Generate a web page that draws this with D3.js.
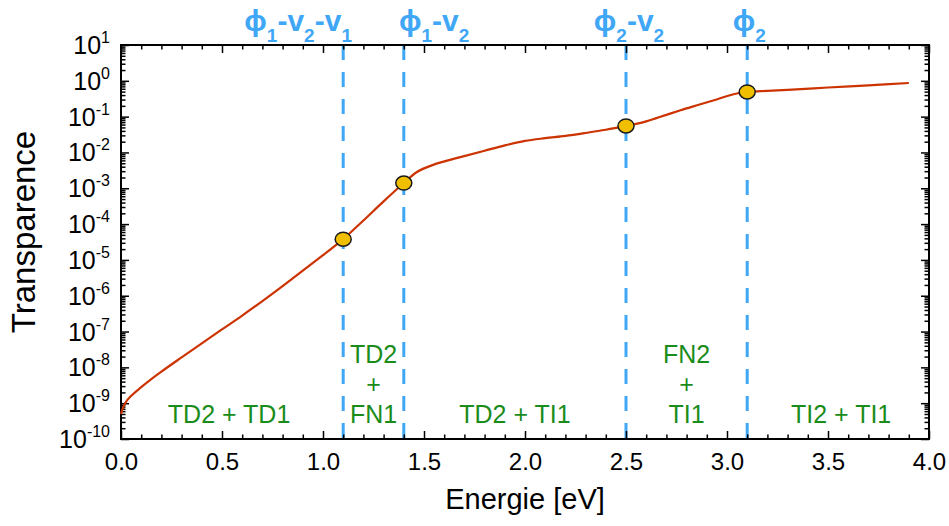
<!DOCTYPE html>
<html><head><meta charset="utf-8">
<script src="https://cdn.jsdelivr.net/npm/d3@7"></script>
<style>body{margin:0;background:#fff}svg{display:block}text{font-family:"Liberation Sans",Arial,sans-serif}</style>
</head><body><svg id="c" width="949" height="526"></svg>
<script>
// Curve data: photon energy (eV) and transparence
const energy = [0.00,0.02,0.05,0.10,0.15,0.20,0.30,0.40,0.50,0.60,0.70,0.80,0.90,1.00,1.10,1.20,1.30,1.40,1.465,1.545,1.68,1.80,1.90,2.00,2.10,2.20,2.30,2.40,2.50,2.55,2.60,2.65,2.70,2.77,2.86,2.94,3.01,3.06,3.10,3.15,3.20,3.30,3.50,3.70,3.90];
const transparence = [5.0e-10,1.0e-9,1.6e-9,2.8e-9,4.7e-9,7.6e-9,1.9e-8,4.7e-8,1.15e-7,2.8e-7,7.1e-7,1.86e-6,5.0e-6,1.35e-5,3.8e-5,1.26e-4,4.3e-4,1.4e-3,2.85e-3,4.5e-3,7.4e-3,1.12e-2,1.58e-2,2.1e-2,2.5e-2,2.9e-2,3.5e-2,4.3e-2,5.5e-2,6.3e-2,7.4e-2,9.1e-2,0.112,0.151,0.214,0.292,0.39,0.457,0.49,0.51,0.525,0.56,0.65,0.75,0.87];
// Threshold markers
const thresholdE = [1.1,1.4,2.5,3.1];
const thresholdT = [3.8e-5,1.4e-3,5.5e-2,0.49];
// Top labels (text, is-subscript) and label centre in eV
const topLabelParts = [
  [["ϕ",0],["1",1],["-v",0],["2",1],["-v",0],["1",1]],
  [["ϕ",0],["1",1],["-v",0],["2",1]],
  [["ϕ",0],["2",1],["-v",0],["2",1]],
  [["ϕ",0],["2",1]]
];
const topLabelE = [0.877,1.55,2.515,3.11];
// Region labels
const regionLines = [["TD2 + TD1"],["TD2","+","FN1"],["TD2 + TI1"],["FN2","+","TI1"],["TI2 + TI1"]];
const regionE = [0.535,1.25,1.95,2.8,3.565];
// Axis ticks
const xMajor = [0,0.5,1,1.5,2,2.5,3,3.5,4];
const xTickLabels = ["0.0","0.5","1.0","1.5","2.0","2.5","3.0","3.5","4.0"];
const yExponents = [1,0,-1,-2,-3,-4,-5,-6,-7,-8,-9,-10];

const svg = d3.select("#c");
const L=121,R=929,T=45,B=439;
const x = d3.scaleLinear().domain([0,4]).range([L,R]);
const y = d3.scaleLog().domain([1e-10,10]).range([B,T]);
const blue="#3fa7f5", green="#1a8c1a";

const xMinor = d3.range(0,41).map(i=>i/10).filter(v=>Math.abs(v*2-Math.round(v*2))>1e-6);
const yMinor = [];
yExponents.slice(1).forEach(e=>{for(let m=2;m<=9;m++) yMinor.push(m*Math.pow(10,e));});
const yMajorVals = yExponents.map(e=>Math.pow(10,e));

function styleAxis(g){g.select(".domain").remove();g.selectAll("line").attr("stroke","#000").attr("stroke-width",1.5);}

// dashed lines
svg.append("g").selectAll("line").data(thresholdE).join("line")
  .attr("x1",d=>x(d)).attr("x2",d=>x(d)).attr("y1",T).attr("y2",B)
  .attr("stroke",blue).attr("stroke-width",3).attr("stroke-dasharray","15,12");

// axes
svg.append("g").attr("transform",`translate(0,${B})`).call(d3.axisBottom(x).tickValues(xMajor).tickSize(-8).tickSizeOuter(0).tickPadding(14).tickFormat((d,i)=>xTickLabels[i])).call(styleAxis)
  .selectAll("text").attr("font-size",24).attr("fill","#000").attr("font-family","Liberation Sans, Arial, sans-serif");
svg.append("g").attr("transform",`translate(0,${B})`).call(d3.axisBottom(x).tickValues(xMinor).tickSize(-4.5).tickSizeOuter(0).tickFormat("")).call(styleAxis);
svg.append("g").attr("transform",`translate(0,${T})`).call(d3.axisTop(x).tickValues(xMajor).tickSize(-8).tickSizeOuter(0).tickFormat("")).call(styleAxis);
svg.append("g").attr("transform",`translate(0,${T})`).call(d3.axisTop(x).tickValues(xMinor).tickSize(-4.5).tickSizeOuter(0).tickFormat("")).call(styleAxis);
svg.append("g").attr("transform",`translate(${L},0)`).call(d3.axisLeft(y).tickValues(yMajorVals).tickSize(-8).tickSizeOuter(0).tickFormat("")).call(styleAxis);
svg.append("g").attr("transform",`translate(${L},0)`).call(d3.axisLeft(y).tickValues(yMinor).tickSize(-4.5).tickSizeOuter(0).tickFormat("")).call(styleAxis);
svg.append("g").attr("transform",`translate(${R},0)`).call(d3.axisRight(y).tickValues(yMajorVals).tickSize(-8).tickSizeOuter(0).tickFormat("")).call(styleAxis);
svg.append("g").attr("transform",`translate(${R},0)`).call(d3.axisRight(y).tickValues(yMinor).tickSize(-4.5).tickSizeOuter(0).tickFormat("")).call(styleAxis);

// y tick labels 10^n
const yl = svg.append("g").selectAll("text").data(yExponents).join("text")
  .attr("x",110).attr("y",d=>y(Math.pow(10,d))+9).attr("text-anchor","end").attr("font-size",25).attr("fill","#000");
yl.append("tspan").text("10");
yl.append("tspan").attr("dy",-11).attr("font-size",16).text(d=>String(d));

// frame
svg.append("rect").attr("x",L).attr("y",T).attr("width",R-L).attr("height",B-T).attr("fill","none").attr("stroke","#000").attr("stroke-width",2);

// curve
const pts = energy.map((e,i)=>[e,transparence[i]]);
svg.append("path").datum(pts).attr("fill","none").attr("stroke","#cc3300").attr("stroke-width",2.2)
  .attr("d",d3.line().x(d=>x(d[0])).y(d=>y(d[1])).curve(d3.curveCatmullRom.alpha(0.5)));

// markers
svg.append("g").selectAll("ellipse").data(thresholdE).join("ellipse")
  .attr("cx",d=>x(d)).attr("cy",(d,i)=>y(thresholdT[i])).attr("rx",8).attr("ry",7)
  .attr("fill","#f0c000").attr("stroke","#1a1a1a").attr("stroke-width",1.5);

// top labels
topLabelParts.forEach((parts,i)=>{
  const t = svg.append("text").attr("x",x(topLabelE[i])).attr("y",31).attr("text-anchor","middle")
    .attr("fill",blue).attr("font-weight","bold").attr("font-size",30);
  let sub=false;
  parts.forEach(p=>{
    const ts=t.append("tspan").text(p[0]);
    if(p[1]&&!sub){ts.attr("dy",11).attr("font-size",19);sub=true;}
    else if(!p[1]&&sub){ts.attr("dy",-11);sub=false;}
    else if(p[1]) ts.attr("font-size",19);
  });
});

// region labels
regionLines.forEach((lines,i)=>{
  lines.forEach((s,j)=>{
    svg.append("text").attr("x",x(regionE[i])).attr("y",423-(lines.length-1-j)*30)
      .attr("text-anchor","middle").attr("fill",green).attr("font-size",25).text(s);
  });
});

// axis titles
svg.append("text").attr("x",(L+R)/2).attr("y",509).attr("text-anchor","middle").attr("font-size",29).attr("fill","#000").text("Energie [eV]");
svg.append("text").attr("transform",`translate(35,232) rotate(-90)`).attr("text-anchor","middle").attr("font-size",33).attr("fill","#000").text("Transparence");
</script></body></html>
